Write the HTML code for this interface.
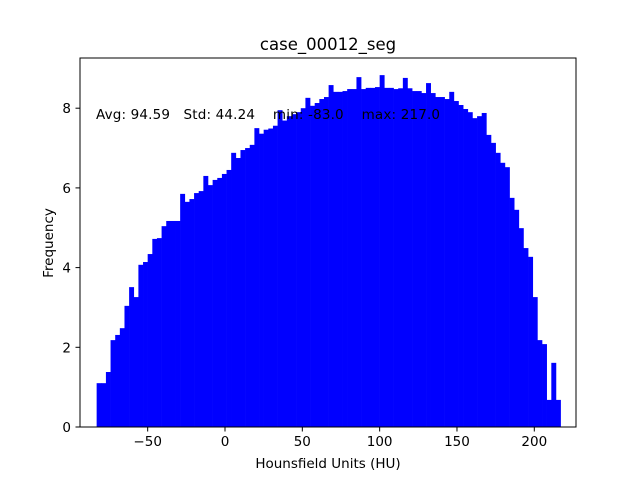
<!DOCTYPE html>
<html><head><meta charset="utf-8"><style>
body{margin:0;background:#fff;}
svg text{font-family:"DejaVu Sans","Liberation Sans",sans-serif;fill:#000;}
</style></head><body>
<svg id="chart" width="640" height="480">
<rect width="640" height="480" fill="#fff"/>
<g id="bars"></g>
<rect x="80" y="58" width="496" height="369" fill="none" stroke="#000" stroke-width="1"/>
<g id="xt"></g>
<g id="yt"></g>
<text x="328" y="50" font-size="16.5" text-anchor="middle">case_00012_seg</text>
<text x="328" y="468" font-size="13.5" text-anchor="middle">Hounsfield Units (HU)</text>
<text x="53" y="243" font-size="13.5" text-anchor="middle" transform="rotate(-90 53 243)">Frequency</text>
<text x="96" y="119" font-size="13.5" style="white-space:pre" textLength="344">Avg: 94.59   Std: 44.24    min: -83.0    max: 217.0</text>
</svg>
<script>
const binStart = -83;
const binWidth = 3;
const counts = [1.1,1.1,1.38,2.18,2.31,2.48,3.04,3.51,3.26,4.07,
4.14,4.34,4.72,4.74,5.04,5.17,5.17,5.17,5.85,5.65,
5.72,5.87,5.92,6.3,6.07,6.2,6.25,6.35,6.45,6.88,
6.75,6.95,7.0,7.08,7.5,7.36,7.46,7.49,7.56,7.95,
7.69,7.8,7.85,7.9,8.0,8.26,8.06,8.13,8.23,8.28,
8.58,8.41,8.41,8.43,8.48,8.48,8.78,8.48,8.51,8.51,
8.53,8.83,8.51,8.51,8.48,8.5,8.76,8.5,8.43,8.43,
8.38,8.63,8.38,8.28,8.28,8.23,8.41,8.18,8.08,7.98,
7.9,7.75,7.8,7.88,7.33,7.13,6.88,6.63,6.52,5.75,
5.45,4.99,4.49,4.27,3.26,2.18,2.08,0.68,1.61,0.68];
const xTicks = [-50,0,50,100,150,200];
const yTicks = [0,2,4,6,8];
const NS = "http://www.w3.org/2000/svg";
function xs(v){return 225 + v*1.5465;}
function ys(v){return 427 - v*39.85;}
const bars = document.getElementById('bars');
counts.forEach((c,i)=>{
  const r = document.createElementNS(NS,'rect');
  const x0 = xs(binStart + i*binWidth), x1 = xs(binStart + (i+1)*binWidth);
  r.setAttribute('x', x0); r.setAttribute('width', x1-x0+0.3);
  r.setAttribute('y', ys(c)); r.setAttribute('height', ys(0)-ys(c));
  r.setAttribute('fill','#0000ff');
  
  
  bars.appendChild(r);
});
const xt = document.getElementById('xt');
xTicks.forEach(t=>{
  const l = document.createElementNS(NS,'line');
  l.setAttribute('x1',xs(t)); l.setAttribute('x2',xs(t));
  l.setAttribute('y1',427); l.setAttribute('y2',431.5);
  l.setAttribute('stroke','#000');
  
  
  xt.appendChild(l);
  const tx = document.createElementNS(NS,'text');
  tx.setAttribute('x',xs(t)); tx.setAttribute('y',446);
  tx.setAttribute('font-size','13.5'); tx.setAttribute('text-anchor','middle');
  tx.textContent = t<0 ? '\u2212'+Math.abs(t) : String(t);
  
  
  xt.appendChild(tx);
});
const yt = document.getElementById('yt');
yTicks.forEach(t=>{
  const l = document.createElementNS(NS,'line');
  l.setAttribute('x1',75.5); l.setAttribute('x2',80);
  l.setAttribute('y1',ys(t)); l.setAttribute('y2',ys(t));
  l.setAttribute('stroke','#000');
  
  
  yt.appendChild(l);
  const tx = document.createElementNS(NS,'text');
  tx.setAttribute('x',71); tx.setAttribute('y',ys(t)+5);
  tx.setAttribute('font-size','13.5'); tx.setAttribute('text-anchor','end');
  tx.textContent = String(t);
  
  
  yt.appendChild(tx);
});
</script>
</body></html>
